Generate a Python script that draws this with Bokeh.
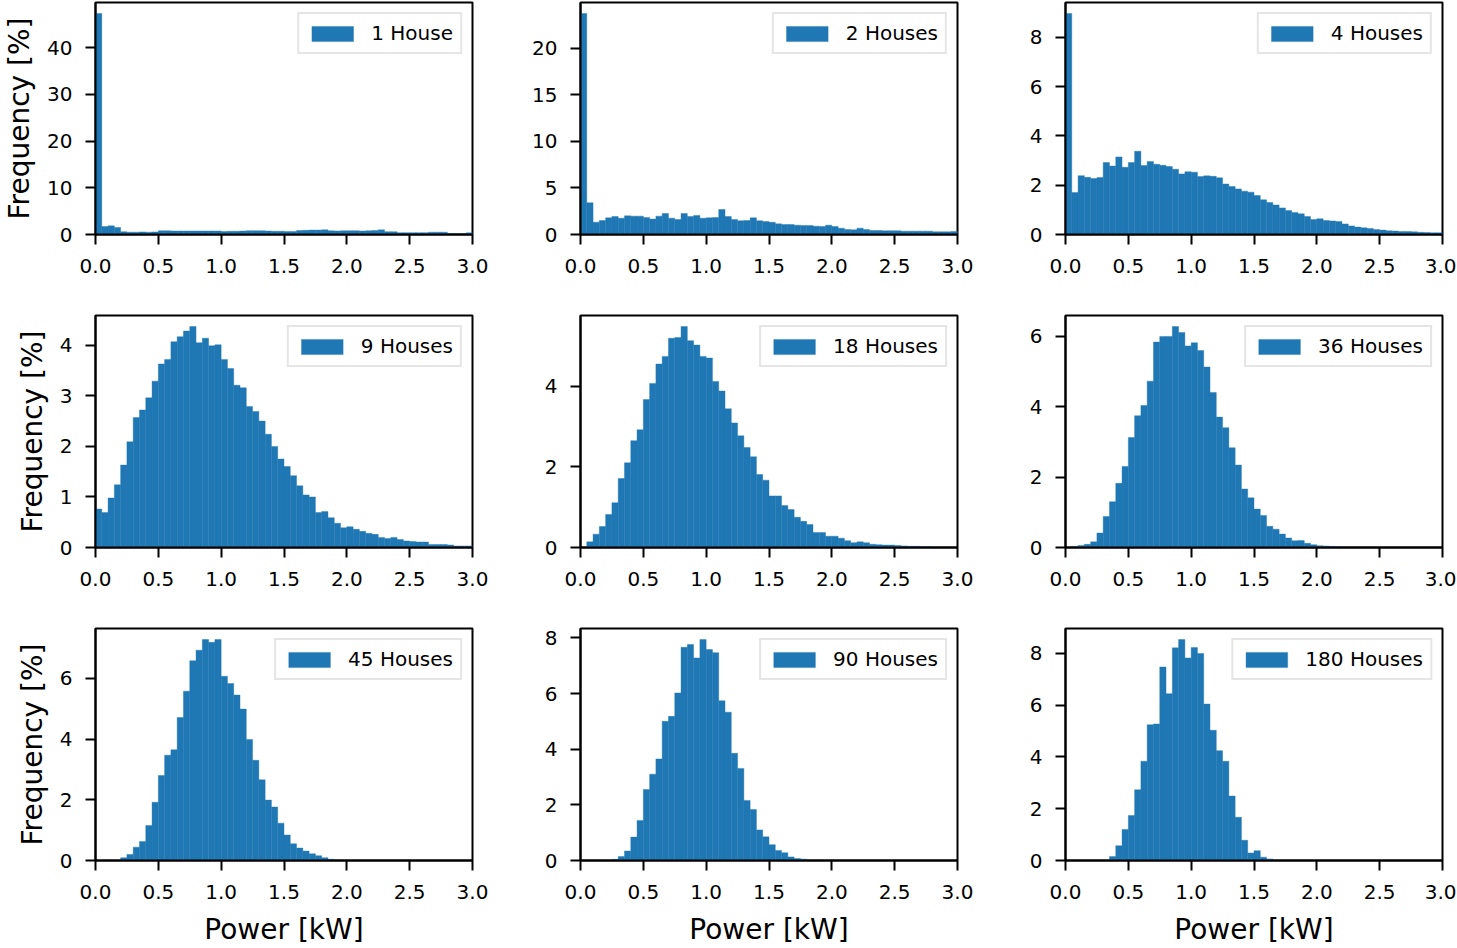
from bokeh.plotting import figure
from bokeh.models import Range1d, FixedTicker, NumeralTickFormatter
from bokeh.layouts import column, row
from bokeh.embed import file_html
from bokeh.resources import INLINE

# ---------------- data ----------------
BIN_WIDTH = 0.05
N_BINS = 60
bin_left = [round(i * BIN_WIDTH, 2) for i in range(N_BINS)]
bin_right = [round((i + 1) * BIN_WIDTH, 2) for i in range(N_BINS)]

labels = ["1 House", "2 Houses", "4 Houses",
          "9 Houses", "18 Houses", "36 Houses",
          "45 Houses", "90 Houses", "180 Houses"]

freq_1 = [47.3, 1.7, 1.85, 1.5, 0.6, 0.5, 0.5, 0.55, 0.5, 0.55,
          0.8, 0.8, 0.75, 0.75, 0.75, 0.75, 0.75, 0.75, 0.75, 0.75,
          0.65, 0.7, 0.7, 0.75, 0.8, 0.8, 0.8, 0.75, 0.7, 0.7,
          0.65, 0.65, 0.85, 0.9, 0.95, 0.95, 1.0, 0.8, 0.75, 0.8,
          0.8, 0.8, 0.75, 0.8, 0.85, 1.0, 0.6, 0.6, 0.4, 0.4,
          0.4, 0.4, 0.4, 0.5, 0.5, 0.5, 0.15, 0.15, 0.15, 0.35]

freq_2 = [23.7, 3.4, 1.32, 1.5, 1.79, 1.93, 1.75, 2.0, 1.97, 1.97,
          1.82, 1.65, 1.97, 2.25, 1.75, 1.61, 2.25, 1.93, 2.04, 1.75,
          1.79, 1.82, 2.68, 1.93, 1.61, 1.47, 1.5, 1.79, 1.47, 1.39,
          1.32, 1.14, 1.07, 1.07, 1.0, 0.97, 0.97, 0.89, 0.86, 1.0,
          0.86, 0.68, 0.54, 0.5, 0.68, 0.54, 0.43, 0.43, 0.4, 0.4,
          0.4, 0.36, 0.36, 0.36, 0.36, 0.36, 0.29, 0.29, 0.29, 0.32]

freq_4 = [8.97, 1.70, 2.39, 2.32, 2.27, 2.31, 2.92, 2.78, 3.15, 2.73,
          2.92, 3.38, 2.80, 2.96, 2.85, 2.81, 2.76, 2.65, 2.46, 2.55,
          2.53, 2.35, 2.38, 2.36, 2.30, 2.05, 1.95, 1.85, 1.76, 1.72,
          1.58, 1.41, 1.30, 1.20, 1.08, 0.97, 0.89, 0.84, 0.73, 0.61,
          0.64, 0.57, 0.55, 0.53, 0.43, 0.35, 0.30, 0.27, 0.24, 0.20,
          0.18, 0.15, 0.14, 0.12, 0.12, 0.11, 0.09, 0.08, 0.07, 0.07]

freq_9 = [0.76, 0.69, 0.98, 1.24, 1.63, 2.09, 2.57, 2.72, 2.96, 3.29,
          3.63, 3.72, 4.07, 4.17, 4.28, 4.37, 4.05, 4.14, 3.99, 4.01,
          3.72, 3.54, 3.21, 3.16, 2.79, 2.69, 2.50, 2.24, 2.00, 1.75,
          1.60, 1.42, 1.22, 1.04, 1.00, 0.69, 0.71, 0.59, 0.48, 0.39,
          0.41, 0.36, 0.32, 0.28, 0.26, 0.20, 0.18, 0.20, 0.16, 0.13,
          0.12, 0.11, 0.11, 0.06, 0.06, 0.06, 0.05, 0.03, 0.03, 0.03]

freq_18 = [0.0, 0.14, 0.33, 0.52, 0.82, 1.11, 1.71, 2.10, 2.65, 2.92,
           3.67, 4.07, 4.55, 4.74, 5.19, 5.21, 5.48, 5.13, 5.02, 4.74,
           4.70, 4.12, 3.88, 3.44, 3.09, 2.77, 2.48, 2.25, 1.81, 1.67,
           1.28, 1.28, 1.04, 0.94, 0.75, 0.65, 0.57, 0.37, 0.37, 0.28,
           0.28, 0.23, 0.17, 0.12, 0.14, 0.12, 0.08, 0.07, 0.06, 0.06,
           0.05, 0.04, 0.03, 0.03, 0.02, 0.02, 0.0, 0.0, 0.0, 0.0]

freq_36 = [0.0, 0.03, 0.06, 0.09, 0.16, 0.41, 0.88, 1.30, 1.82, 2.30,
           3.12, 3.74, 4.03, 4.72, 5.83, 5.99, 5.99, 6.27, 6.10, 5.72,
           5.81, 5.59, 5.12, 4.40, 3.70, 3.40, 2.83, 2.34, 1.66, 1.41,
           1.09, 0.91, 0.60, 0.52, 0.38, 0.27, 0.19, 0.20, 0.12, 0.08,
           0.05, 0.04, 0.03, 0.02, 0.0, 0.0, 0.0, 0.0, 0.0, 0.0,
           0.0, 0.0, 0.0, 0.0, 0.0, 0.0, 0.0, 0.0, 0.0, 0.0]

freq_45 = [0.0, 0.0, 0.0, 0.0, 0.09, 0.20, 0.44, 0.63, 1.15, 1.92,
           2.80, 3.47, 3.65, 4.71, 5.58, 6.58, 6.93, 7.28, 7.19, 7.28,
           6.07, 5.83, 5.45, 4.99, 3.99, 3.30, 2.66, 1.99, 1.76, 1.23,
           0.84, 0.55, 0.41, 0.31, 0.22, 0.16, 0.09, 0.04, 0.0, 0.0,
           0.0, 0.0, 0.0, 0.0, 0.0, 0.0, 0.0, 0.0, 0.0, 0.0,
           0.0, 0.0, 0.0, 0.0, 0.0, 0.0, 0.0, 0.0, 0.0, 0.0]

freq_90 = [0.0, 0.0, 0.0, 0.0, 0.0, 0.04, 0.14, 0.34, 0.84, 1.44,
           2.55, 3.10, 3.65, 5.00, 5.18, 6.02, 7.66, 7.76, 7.28, 7.94,
           7.58, 7.47, 5.74, 5.33, 3.85, 3.31, 2.16, 1.83, 1.10, 0.85,
           0.57, 0.36, 0.28, 0.13, 0.07, 0.05, 0.0, 0.0, 0.0, 0.0,
           0.0, 0.0, 0.0, 0.0, 0.0, 0.0, 0.0, 0.0, 0.0, 0.0,
           0.0, 0.0, 0.0, 0.0, 0.0, 0.0, 0.0, 0.0, 0.0, 0.0]

freq_180 = [0.0, 0.0, 0.0, 0.0, 0.0, 0.0, 0.0, 0.15, 0.57, 1.20,
            1.74, 2.73, 3.83, 5.24, 5.27, 7.47, 6.44, 8.21, 8.53, 7.82,
            8.22, 7.99, 6.04, 5.03, 4.24, 3.83, 2.49, 1.67, 0.78, 0.29,
            0.38, 0.13, 0.06, 0.0, 0.0, 0.0, 0.0, 0.0, 0.0, 0.0,
            0.0, 0.0, 0.0, 0.0, 0.0, 0.0, 0.0, 0.0, 0.0, 0.0,
            0.0, 0.0, 0.0, 0.0, 0.0, 0.0, 0.0, 0.0, 0.0, 0.0]

x_ticks = [0.0, 0.5, 1.0, 1.5, 2.0, 2.5, 3.0]
y_ticks = [[0, 10, 20, 30, 40], [0, 5, 10, 15, 20], [0, 2, 4, 6, 8],
           [0, 1, 2, 3, 4], [0, 2, 4], [0, 2, 4, 6],
           [0, 2, 4, 6], [0, 2, 4, 6, 8], [0, 2, 4, 6, 8]]

all_freqs = [freq_1, freq_2, freq_4, freq_9, freq_18, freq_36,
             freq_45, freq_90, freq_180]

x_label = "Power [kW]"
y_label = "Frequency [%]"

# ---------------- layout / style ----------------
BAR_COLOR = "#1f77b4"
FONT = "DejaVu Sans"
FRAME_W = 377
FRAME_H = 232
BORDER_L = [95, 88, 88]
BORDER_R = [20, 20, 14]
BORDER_T = [2, 21, 21]
BORDER_B = [60, 60, 89]


def make_panel(idx):
    r, c = divmod(idx, 3)
    freqs = all_freqs[idx]
    p = figure(width=BORDER_L[c] + FRAME_W + BORDER_R[c],
               height=BORDER_T[r] + FRAME_H + BORDER_B[r],
               output_backend="svg", toolbar_location=None,
               x_range=Range1d(0, 3.0),
               y_range=Range1d(0, max(freqs) * 1.05),
               min_border_left=BORDER_L[c], min_border_right=BORDER_R[c],
               min_border_top=BORDER_T[r], min_border_bottom=BORDER_B[r])
    p.quad(left=bin_left, right=bin_right, bottom=0, top=freqs,
           fill_color=BAR_COLOR, line_color=BAR_COLOR, line_width=0.4,
           legend_label=labels[idx])

    p.grid.visible = False
    p.outline_line_color = "black"
    p.outline_line_width = 2
    p.background_fill_color = "white"
    p.border_fill_color = "white"

    p.xaxis.ticker = FixedTicker(ticks=x_ticks)
    p.xaxis.formatter = NumeralTickFormatter(format="0.0")
    p.yaxis.ticker = FixedTicker(ticks=y_ticks[idx])
    for ax in p.axis:
        ax.axis_line_color = "black"
        ax.axis_line_width = 2
        ax.major_tick_line_color = "black"
        ax.major_tick_line_width = 2
        ax.major_tick_out = 10
        ax.major_tick_in = 0
        ax.minor_tick_line_color = None
        ax.major_label_text_font = FONT
        ax.major_label_text_font_size = "20px"
        ax.major_label_text_color = "black"
        ax.axis_label_text_font = FONT
        ax.axis_label_text_font_size = "28px"
        ax.axis_label_text_font_style = "normal"
        ax.axis_label_text_color = "black"
    p.xaxis.major_label_standoff = 14
    p.yaxis.major_label_standoff = 13
    p.xaxis.axis_label_standoff = 11
    p.yaxis.axis_label_standoff = 8
    if c == 0:
        p.yaxis.axis_label = y_label
    if r == 2:
        p.xaxis.axis_label = x_label

    lg = p.legend[0]
    lg.location = "top_right"
    lg.margin = 10
    lg.padding = 7
    lg.spacing = 0
    lg.label_standoff = 13
    lg.glyph_width = 52
    lg.glyph_height = 19
    lg.label_text_font = FONT
    lg.label_text_font_size = "20px"
    lg.label_text_color = "black"
    lg.border_line_color = "#cccccc"
    lg.border_line_width = 2
    lg.background_fill_color = "white"
    lg.background_fill_alpha = 0.8
    return p


panels = [make_panel(i) for i in range(9)]
layout = column(row(*panels[0:3]), row(*panels[3:6]), row(*panels[6:9]))

open("out.html", "w").write(file_html(layout, INLINE))
